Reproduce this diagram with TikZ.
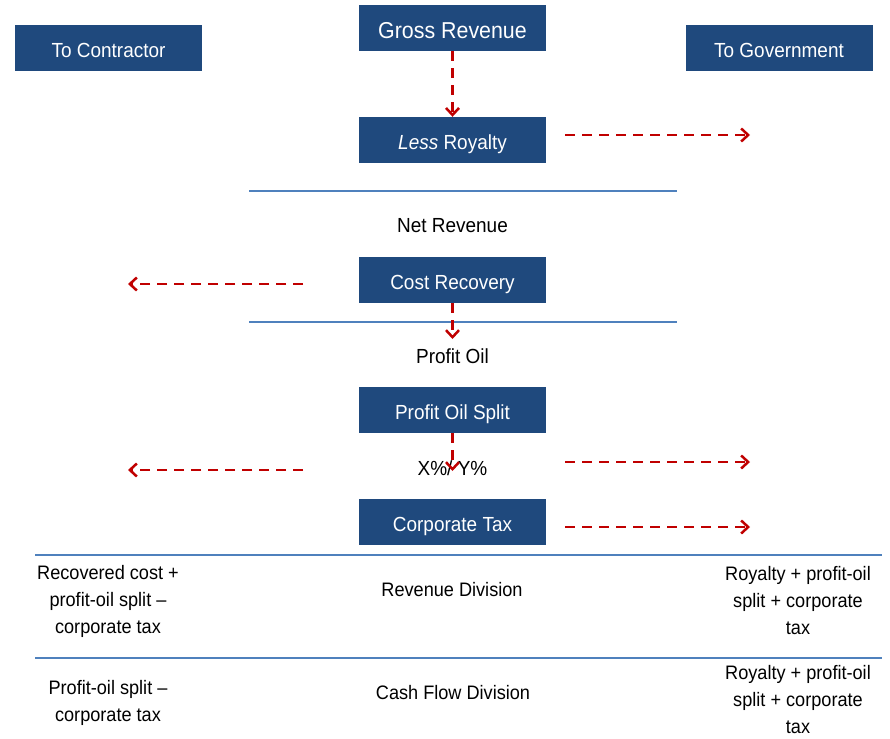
\documentclass[tikz,border=0pt]{standalone}
\usepackage{fontspec}
\setmainfont[FakeStretch=0.93]{Liberation Sans}
\usetikzlibrary{arrows.meta}
\definecolor{boxblue}{RGB}{31,73,125}
\definecolor{rulerblue}{RGB}{79,129,189}
\definecolor{arrred}{RGB}{192,0,0}
\tikzset{
  stagebox/.style={fill=boxblue, text=white, minimum width=187pt, minimum height=46pt, inner sep=0pt,
    text height=19pt, text depth=0pt, font=\fontsize{20.4}{24}\selectfont},
  lbl/.style={inner sep=0pt, text=black, font=\fontsize{20.4}{24}\selectfont},
  multi/.style={inner sep=0pt, text=black, align=center, font=\fontsize{19.5}{27}\selectfont},
  ruler/.style={draw=rulerblue, line width=1.2pt},
  flow/.style={draw=arrred, line width=2.5pt, dash pattern=on 10pt off 7pt,
    -{Straight Barb[length=7pt,width=13pt]}},
}
\begin{document}
\begin{tikzpicture}[x=1pt,y=-1pt]
\useasboundingbox (0,0) rectangle (890,738);
% header boxes
\node[stagebox] (contr) at (108.5,48) {To Contractor};
\node[stagebox] (gov) at (779,48) {To Government};
% stage boxes
\node[stagebox, text height=21pt, font=\fontsize{23}{27}\selectfont] (gross) at (452.5,28) {Gross Revenue};
\node[stagebox] (roy) at (452.5,140) {\textit{Less} Royalty};
\node[stagebox] (cost) at (452.5,280) {Cost Recovery};
\node[stagebox] (split) at (452.5,410) {Profit Oil Split};
\node[stagebox] (tax) at (452.5,522) {Corporate Tax};
% labels
\node[lbl] (net) at (452.5,226) {Net Revenue};
\node[lbl] (po) at (452.5,356) {Profit Oil};
\node[lbl] (xy) at (452.5,468) {X\%/ Y\%};
% rulers
\coordinate (r1a) at (249,191); \coordinate (r1b) at (677,191);
\coordinate (r2a) at (249,322); \coordinate (r2b) at (677,322);
\coordinate (r3a) at (35,555); \coordinate (r3b) at (882,555);
\coordinate (r4a) at (35,658); \coordinate (r4b) at (882,658);
\draw[ruler] (r1a) -- (r1b);
\draw[ruler] (r2a) -- (r2b);
\draw[ruler] (r3a) -- (r3b);
\draw[ruler] (r4a) -- (r4b);
% bottom table
\node[multi] (revL) at (108,601) {Recovered cost +\\profit-oil split –\\corporate tax};
\node[lbl, font=\fontsize{19.5}{27}\selectfont] (revC) at (452,590) {Revenue Division};
\node[multi] (revR) at (798,601) {Royalty + profit-oil\\split + corporate\\tax};
\node[multi] (cfL) at (108,703) {Profit-oil split –\\corporate tax};
\node[lbl, font=\fontsize{19.5}{27}\selectfont] (cfC) at (453,693) {Cash Flow Division};
\node[multi] (cfR) at (798,700) {Royalty + profit-oil\\split + corporate\\tax};
% arrow end points
\coordinate (royS) at (565,135); \coordinate (royE) at (750,135);
\coordinate (costS) at (303,284); \coordinate (costE) at (128,284);
\coordinate (costD) at (452.5,339);
\coordinate (splitD) at (452.5,471);
\coordinate (xyLS) at (303,470); \coordinate (xyLE) at (128,470);
\coordinate (xyRS) at (565,462); \coordinate (xyRE) at (750,462);
\coordinate (taxS) at (565,527); \coordinate (taxE) at (750,527);
% arrows
\draw[flow] (gross) -- (roy);
\draw[flow] (royS) -- (royE);
\draw[flow] (costS) -- (costE);
\draw[flow] (cost) -- (costD);
\draw[flow] (split) -- (splitD);
\draw[flow] (xyLS) -- (xyLE);
\draw[flow] (xyRS) -- (xyRE);
\draw[flow] (taxS) -- (taxE);
\end{tikzpicture}
\end{document}
